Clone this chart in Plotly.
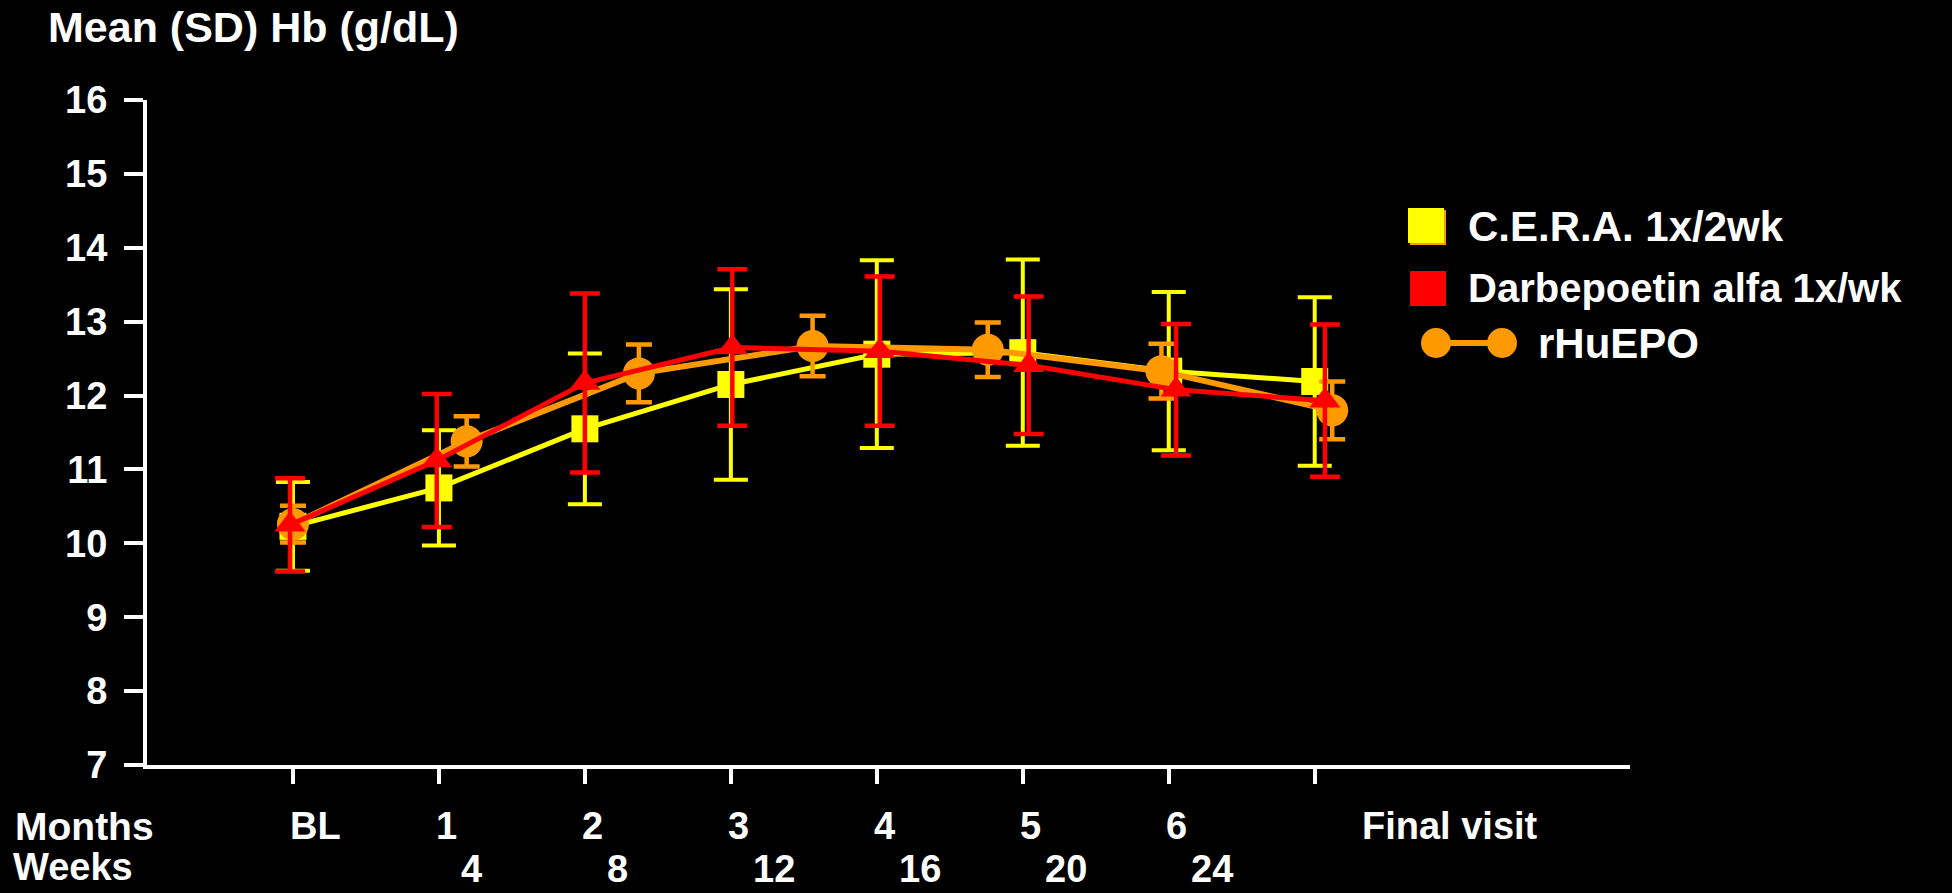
import plotly.graph_objects as go

# ---- data ----
month_labels = ["BL", "1", "2", "3", "4", "5", "6", "Final visit"]
week_labels = ["", "4", "8", "12", "16", "20", "24", ""]
y_ticks = [7, 8, 9, 10, 11, 12, 13, 14, 15, 16]

cera_x = [0, 1, 2, 3, 4, 5, 6, 7]
cera_mean = [10.23, 10.75, 11.55, 12.15, 12.56, 12.58, 12.33, 12.19]
cera_sd = [0.60, 0.78, 1.02, 1.29, 1.27, 1.26, 1.07, 1.14]

darb_x = [-0.02, 0.985, 2.0, 3.01, 4.02, 5.04, 6.05, 7.07]
darb_mean = [10.25, 11.12, 12.17, 12.65, 12.60, 12.41, 12.08, 11.93]
darb_sd = [0.63, 0.90, 1.21, 1.06, 1.01, 0.93, 0.89, 1.03]

epo_x = [0.0, 1.19, 2.37, 3.56, 4.76, 5.95, 7.12]
epo_mean = [10.26, 11.38, 12.30, 12.67, 12.62, 12.33, 11.80]
epo_sd = [0.25, 0.34, 0.39, 0.41, 0.37, 0.37, 0.39]

series_names = ["C.E.R.A. 1x/2wk", "Darbepoetin alfa 1x/wk", "rHuEPO"]

YELLOW = "#FFFF00"
RED = "#FF0000"
ORANGE = "#FF9900"
WHITE = "#FFFFFF"
FONT = "Liberation Sans, Arial, sans-serif"

# ---- geometry helpers (pixel -> paper) ----
W, H = 1952, 893
PL, PR, PT, PB = 147, 1630, 100, 765


def px(xp):
    return (xp - PL) / (PR - PL)


def py(yp):
    return (PB - yp) / (PB - PT)


fig = go.Figure()

fig.add_trace(go.Scatter(
    x=cera_x, y=cera_mean, name=series_names[0], mode="lines+markers",
    line=dict(color=YELLOW, width=5),
    marker=dict(symbol="square", size=27, color=YELLOW),
    error_y=dict(type="data", array=cera_sd, color=YELLOW, thickness=4, width=17),
    showlegend=False,
))
fig.add_trace(go.Scatter(
    x=epo_x, y=epo_mean, name=series_names[2], mode="lines+markers",
    line=dict(color=ORANGE, width=6),
    marker=dict(symbol="circle", size=32, color=ORANGE),
    error_y=dict(type="data", array=epo_sd, color=ORANGE, thickness=4.5, width=13),
    showlegend=False,
))
fig.add_trace(go.Scatter(
    x=darb_x, y=darb_mean, name=series_names[1], mode="lines+markers",
    line=dict(color=RED, width=5),
    marker=dict(symbol="triangle-up", size=27, color=RED),
    error_y=dict(type="data", array=darb_sd, color=RED, thickness=4.5, width=15),
    showlegend=False,
))

annotations = []
# title
annotations.append(dict(
    text="Mean (SD) Hb (g/dL)", xref="paper", yref="paper",
    x=px(46), y=py(27), xanchor="left", yanchor="middle", showarrow=False,
    font=dict(family=FONT, size=43, color=WHITE, weight="bold"),
))
# row labels
annotations.append(dict(
    text="Months", xref="paper", yref="paper", x=px(13), y=py(826),
    xanchor="left", yanchor="middle", showarrow=False,
    font=dict(family=FONT, size=39, color=WHITE, weight="bold"),
))
annotations.append(dict(
    text="Weeks", xref="paper", yref="paper", x=px(11), y=py(867),
    xanchor="left", yanchor="middle", showarrow=False,
    font=dict(family=FONT, size=38, color=WHITE, weight="bold"),
))
for i, lab in enumerate(month_labels):
    annotations.append(dict(
        text=lab, xref="x", yref="paper", x=i, y=py(826),
        xanchor="left", yanchor="middle", showarrow=False,
        xshift=(45 if lab == "Final visit" else -5),
        font=dict(family=FONT, size=38, color=WHITE, weight="bold"),
    ))
for i, lab in enumerate(week_labels):
    if lab:
        annotations.append(dict(
            text=lab, xref="x", yref="paper", x=i, y=py(869),
            xanchor="left", yanchor="middle", showarrow=False, xshift=20,
            font=dict(family=FONT, size=38, color=WHITE, weight="bold"),
        ))

# custom legend
legend_specs = [  # (left px, centre y px, font size)
    (1466, 226, 42),
    (1466, 288, 40),
    (1536, 343, 42),
]
for name, (lx, ly, fs) in zip(series_names, legend_specs):
    annotations.append(dict(
        text=name, xref="paper", yref="paper",
        x=px(lx), y=py(ly),
        xanchor="left", yanchor="middle", showarrow=False,
        font=dict(family=FONT, size=fs, color=WHITE, weight="bold"),
    ))

shapes = [
    # C.E.R.A. square with slight orange shadow
    dict(type="rect", xref="paper", yref="paper", x0=px(1410), x1=px(1446), y0=py(245), y1=py(210),
         fillcolor=ORANGE, line=dict(width=0), layer="above"),
    dict(type="rect", xref="paper", yref="paper", x0=px(1408), x1=px(1444), y0=py(243), y1=py(208),
         fillcolor=YELLOW, line=dict(width=0), layer="above"),
    # Darbepoetin square
    dict(type="rect", xref="paper", yref="paper", x0=px(1410), x1=px(1446), y0=py(306), y1=py(271),
         fillcolor=RED, line=dict(width=0), layer="above"),
    # rHuEPO line with two circles
    dict(type="line", xref="paper", yref="paper", x0=px(1436), x1=px(1502), y0=py(343), y1=py(343),
         line=dict(color=ORANGE, width=6), layer="above"),
    dict(type="circle", xref="paper", yref="paper", x0=px(1421), x1=px(1451), y0=py(358), y1=py(328),
         fillcolor=ORANGE, line=dict(width=0), layer="above"),
    dict(type="circle", xref="paper", yref="paper", x0=px(1487), x1=px(1517), y0=py(358), y1=py(328),
         fillcolor=ORANGE, line=dict(width=0), layer="above"),
]

fig.update_layout(
    width=W, height=H,
    paper_bgcolor="black", plot_bgcolor="black",
    margin=dict(l=PL, r=W - PR, t=PT, b=H - PB, pad=0),
    font=dict(family=FONT, color=WHITE),
    xaxis=dict(
        range=[-1.0, 9.16], tickvals=list(range(len(month_labels))), showticklabels=False,
        showgrid=False, zeroline=False, showline=True, linecolor=WHITE, linewidth=4,
        ticks="outside", ticklen=15, tickwidth=4, tickcolor=WHITE,
    ),
    yaxis=dict(
        range=[7, 16], tickvals=y_ticks, showgrid=False, zeroline=False,
        showline=True, linecolor=WHITE, linewidth=4,
        ticks="outside", ticklen=19, tickwidth=4, tickcolor=WHITE,
        tickfont=dict(family=FONT, size=38, color=WHITE, weight="bold"),
        ticklabelstandoff=9,
    ),
    annotations=annotations,
    shapes=shapes,
    showlegend=False,
)

fig.write_html(
    "out.html",
    config={"displayModeBar": False},
    post_script="document.body.style.margin='0';document.body.style.overflow='hidden';"
                "document.body.style.background='black';",
)
